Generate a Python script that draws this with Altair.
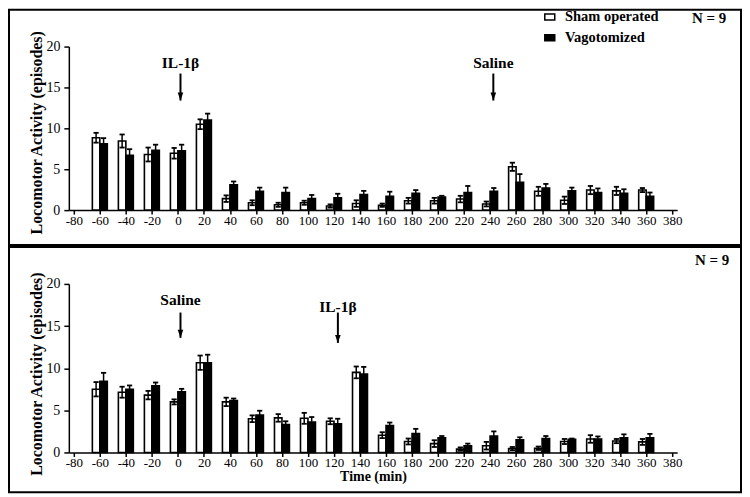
import altair as alt
import pandas as pd

# ---------------- data ----------------
times = [-60, -40, -20, 0, 20, 40, 60, 80, 100, 120, 140, 160, 180, 200, 220, 240,
         260, 280, 300, 320, 340, 360]
x_ticks = list(range(-80, 381, 20))
y_ticks = [0, 5, 10, 15, 20]
groups = ["Sham operated", "Vagotomized"]

top_sham = [8.85, 8.45, 6.8, 6.95, 10.5, 1.4, 0.9, 0.65, 0.9, 0.5, 0.8, 0.6, 1.15, 1.15,
            1.35, 0.75, 5.3, 2.3, 1.2, 2.45, 2.35, 2.45]
top_sham_err = [0.6, 0.8, 0.85, 0.65, 0.6, 0.4, 0.3, 0.25, 0.25, 0.2, 0.4, 0.2, 0.35, 0.35,
                0.4, 0.3, 0.5, 0.55, 0.45, 0.5, 0.5, 0.25]
top_vago = [8.1, 6.7, 7.3, 7.25, 11.0, 3.1, 2.3, 2.15, 1.4, 1.5, 1.9, 1.7, 2.05, 1.6,
            2.15, 2.3, 3.4, 2.7, 2.35, 2.15, 2.05, 1.7]
top_vago_err = [0.7, 0.75, 0.7, 0.75, 0.8, 0.4, 0.45, 0.6, 0.45, 0.5, 0.45, 0.55, 0.4, 0.15,
                0.8, 0.4, 1.0, 0.5, 0.4, 0.5, 0.5, 0.45]

bot_sham = [7.5, 7.15, 6.8, 6.0, 10.65, 6.0, 4.0, 4.1, 4.05, 3.7, 9.5, 2.05, 1.3, 1.05,
            0.4, 0.8, 0.45, 0.5, 1.3, 1.6, 1.35, 1.25]
bot_sham_err = [0.85, 0.65, 0.5, 0.3, 0.85, 0.5, 0.4, 0.45, 0.65, 0.35, 0.7, 0.35, 0.35, 0.4,
                0.2, 0.45, 0.2, 0.2, 0.3, 0.45, 0.25, 0.35]
bot_vago = [8.45, 7.5, 7.9, 7.2, 10.65, 6.15, 4.45, 3.3, 3.6, 3.4, 9.3, 3.2, 2.25, 1.75,
            0.8, 1.95, 1.5, 1.65, 1.55, 1.6, 1.75, 1.75]
bot_vago_err = [1.0, 0.45, 0.4, 0.35, 0.95, 0.25, 0.5, 0.4, 0.6, 0.6, 0.85, 0.35, 0.55, 0.2,
                0.25, 0.55, 0.3, 0.3, 0.1, 0.3, 0.4, 0.45]

# annotations: label, x (min), text y, arrow top, arrow bottom
top_ann_labels = ["IL-1β", "Saline"]
top_ann_x = [2, 242.5]
top_ann_text_y = [17.95, 17.95]
top_ann_arrow_top = [16.7, 16.7]
top_ann_arrow_bot = [13.4, 13.4]

bot_ann_labels = ["Saline", "IL-1β"]
bot_ann_x = [2, 123]
bot_ann_text_y = [18.1, 17.2]
bot_ann_arrow_top = [16.6, 16.6]
bot_ann_arrow_bot = [13.6, 13.0]

n_labels = ["N = 9", "N = 9"]

FONT = "Liberation Serif"
W = 610
H_TOP = 164
H_BOT = 169


def make_df(sham, sham_err, vago, vago_err):
    rows = []
    for g, vals, errs in ((groups[0], sham, sham_err), (groups[1], vago, vago_err)):
        for t, v, e in zip(times, vals, errs):
            rows.append({"time": t, "group": g, "value": v, "err": e,
                         "lo": v - e, "hi": v + e})
    return pd.DataFrame(rows)


def panel(df, height, ann_df, n_label, n_pos, frame_y, legend, xtitle, title_y):
    xs = alt.Scale(domain=[-80, 380], nice=False, zero=False)
    ys = alt.Scale(domain=[0, 20], nice=False, zero=True)
    x_axis = alt.Axis(values=x_ticks, title=xtitle, titlePadding=0, labelPadding=0,
                      tickSize=4, labelFlush=False, labelFontSize=13,
                      labelExpr="'' + datum.value")
    y_axis = alt.Axis(values=y_ticks, title="Locomotor Activity (episodes)",
                      tickSize=5, labelPadding=4, titleY=title_y, titlePadding=1,
                      labelFontSize=14, titleFontSize=16, labelExpr="'' + datum.value")
    X = alt.X("time:Q", scale=xs, axis=x_axis)
    fill_enc = alt.Fill("group:N", scale=alt.Scale(domain=groups, range=["white", "black"]),
                        legend=legend)

    frame = alt.Chart(pd.DataFrame({"k": [0]})).mark_rect(
        fill="white", fillOpacity=0, stroke="black", strokeWidth=2
    ).encode(x=alt.value(-60), x2=alt.value(W + 64),
             y=alt.value(frame_y[0]), y2=alt.value(frame_y[1]))

    layers = [frame]
    for g, off in ((groups[0], -3.75), (groups[1], 3.75)):
        base = alt.Chart(df).transform_filter(alt.datum.group == g)
        bars = base.mark_bar(width=7.5, xOffset=off, stroke="black", strokeWidth=1.6).encode(
            x=X, y=alt.Y("value:Q", scale=ys, axis=y_axis), fill=fill_enc)
        stem = base.mark_rule(xOffset=off, color="black", strokeWidth=1.5).encode(
            x=X, y=alt.Y("lo:Q", scale=ys), y2="hi:Q")
        cap_hi = base.mark_rule(xOffset=off - 2.6, x2Offset=off + 2.6, color="black",
                                strokeWidth=1.8).encode(x=X, x2="time:Q", y=alt.Y("hi:Q", scale=ys))
        cap_lo = base.mark_rule(xOffset=off - 2.6, x2Offset=off + 2.6, color="black",
                                strokeWidth=1.8).encode(x=X, x2="time:Q", y=alt.Y("lo:Q", scale=ys))
        layers += [bars, stem, cap_hi, cap_lo]

    ann = alt.Chart(ann_df)
    ann_text = ann.mark_text(font=FONT, fontSize=15.5, fontWeight="bold", color="black",
                             baseline="middle", align="center").encode(
        x=X, y=alt.Y("ty:Q", scale=ys), text="label:N")
    shaft = ann.mark_rule(color="black", strokeWidth=2).encode(
        x=X, y=alt.Y("atop:Q", scale=ys), y2="abot:Q")
    head = ann.mark_point(shape="M-0.7,-1L0.7,-1L0,1Z", size=64, filled=True, color="black",
                          opacity=1, yOffset=-4).encode(x=X, y=alt.Y("abot:Q", scale=ys))
    n_text = alt.Chart(pd.DataFrame({"label": [n_label]})).mark_text(
        font=FONT, fontSize=15, fontWeight="bold", color="black", baseline="middle",
        align="center").encode(x=alt.value(n_pos[0]), y=alt.value(n_pos[1]), text="label:N")
    layers += [ann_text, shaft, head, n_text]

    return alt.layer(*layers).properties(width=W, height=height)


top_df = make_df(top_sham, top_sham_err, top_vago, top_vago_err)
bot_df = make_df(bot_sham, bot_sham_err, bot_vago, bot_vago_err)

top_ann = pd.DataFrame({"label": top_ann_labels, "time": top_ann_x, "ty": top_ann_text_y,
                        "atop": top_ann_arrow_top, "abot": top_ann_arrow_bot})
bot_ann = pd.DataFrame({"label": bot_ann_labels, "time": bot_ann_x, "ty": bot_ann_text_y,
                        "atop": bot_ann_arrow_top, "abot": bot_ann_arrow_bot})

legend = alt.Legend(title=None, orient="none", legendX=475, legendY=-37,
                    symbolType="M-1,-0.6H1V0.6H-1Z", symbolSize=100,
                    symbolStrokeColor="black", symbolStrokeWidth=1.5,
                    labelFont=FONT, labelFontSize=14.5, labelFontWeight="bold",
                    labelColor="black", labelOffset=8, rowPadding=6, padding=0)

top = panel(top_df, H_TOP, top_ann, n_labels[0], (642, -29), (-37, H_TOP + 35),
            legend, None, 86)
bot = panel(bot_df, H_BOT, bot_ann, n_labels[1], (645, -24), (-37, H_BOT + 40),
            None, "Time (min)", 90)

chart = alt.vconcat(top, bot, spacing=0).resolve_scale(
    x="independent", y="independent", fill="independent"
).resolve_legend(fill="independent").properties(
    padding=0
).configure_view(strokeWidth=0).configure_axis(
    domainColor="black", domainWidth=1.5, tickColor="black", tickWidth=1.5,
    labelFont=FONT, labelFontSize=13, labelColor="black", grid=False,
    titleFont=FONT, titleFontSize=14, titleFontWeight="bold", titleColor="black"
)

chart.save("out.html", embed_options={"renderer": "svg", "actions": False})
